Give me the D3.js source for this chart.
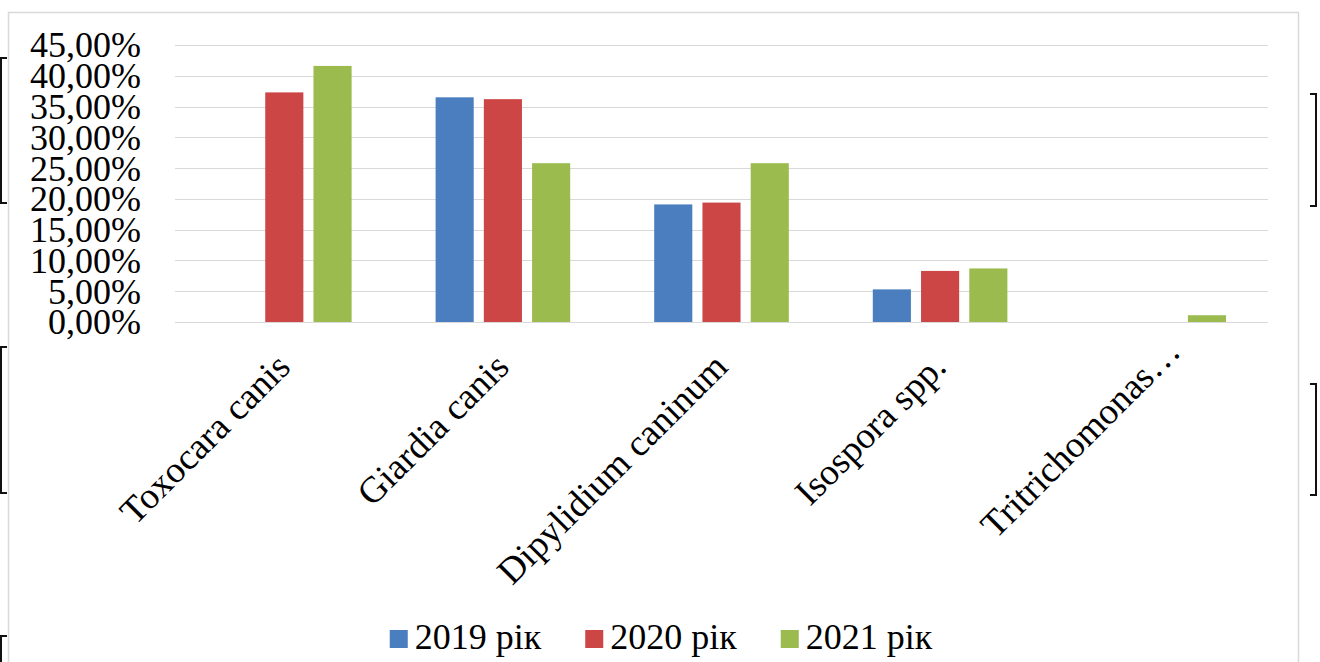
<!DOCTYPE html>
<html>
<head>
<meta charset="utf-8">
<script src="https://cdnjs.cloudflare.com/ajax/libs/d3/7.8.5/d3.min.js"></script>
<style>
	html, body { margin: 0; padding: 0; background: #fff; }
	svg { display: block; font-family: "Liberation Serif", "Times New Roman", serif; }
</style>
</head>
<body>
<svg id="chart" width="1320" height="662"></svg>
<script>
(function(){
	'use strict';

	// data
	var categories = ["Toxocara canis", "Giardia canis", "Dipylidium caninum", "Isospora spp.", "Tritrichomonas…"];
	var seriesNames = ["2019 рік", "2020 рік", "2021 рік"];
	var values2019 = [0, 36.5, 19.1, 5.3, 0];
	var values2020 = [37.3, 36.2, 19.4, 8.3, 0];
	var values2021 = [41.6, 25.8, 25.8, 8.7, 1.1];
	var yTicks = [0, 5, 10, 15, 20, 25, 30, 35, 40, 45];
	var colors = ["#4a7ebf", "#cc4646", "#9bbb4f"];

	var seriesValues = [values2019, values2020, values2021];

	var svg = d3.select("#chart");
	var margin = {top: 45, right: 52, bottom: 340, left: 175};
	var width = 1320 - margin.left - margin.right;
	var height = 662 - margin.top - margin.bottom;

	// outer frame of the chart area
	svg.append("rect")
		.attr("x", 8.5)
		.attr("y", 12.5)
		.attr("width", 1290)
		.attr("height", 670)
		.attr("fill", "none")
		.attr("stroke", "#d9d9d9")
		.attr("stroke-width", 1.5);

	// brackets left over from the page around the chart
	var bracket = function(x, y0, y1, dir){
		svg.append("path")
			.attr("d", "M" + (x + dir * 6) + "," + y0 + "H" + x + "V" + y1 + "H" + (x + dir * 6))
			.attr("fill", "none")
			.attr("stroke", "#111")
			.attr("stroke-width", 2);
	};
	bracket(1, 58, 203, 1);
	bracket(1, 347, 493, 1);
	bracket(1, 636, 670, 1);
	bracket(1316, 94, 206, -1);
	bracket(1316, 384, 495, -1);

	var g = svg.append("g")
		.attr("transform", "translate(" + margin.left + "," + margin.top + ")");

	var x0 = d3.scaleBand()
		.domain(categories)
		.range([0, width]);

	var x1 = d3.scaleBand()
		.domain(seriesNames)
		.range([42, x0.bandwidth() - 42])
		.paddingInner(0.21);

	var y = d3.scaleLinear()
		.domain([0, 45])
		.range([height, 0]);

	// gridlines
	g.append("g")
		.selectAll("line")
		.data(yTicks)
	.enter().append("line")
		.attr("x1", 0)
		.attr("x2", width)
		.attr("y1", function(d){ return Math.round(y(d)) + 0.5; })
		.attr("y2", function(d){ return Math.round(y(d)) + 0.5; })
		.attr("stroke", "#d9d9d9")
		.attr("stroke-width", 1.2);

	// y axis labels
	var yAxis = d3.axisLeft(y)
		.tickValues(yTicks)
		.tickSize(0)
		.tickPadding(34)
		.tickFormat(function(d){ return d3.format(".2f")(d).replace(".", ",") + "%"; });
	var yG = g.append("g").call(yAxis);
	yG.select(".domain").remove();
	yG.selectAll("text")
		.attr("font-family", "Liberation Serif, serif")
		.attr("font-size", 36)
		.attr("fill", "#000")
		.attr("dy", "0.33em");

	// bars
	var groups = g.append("g")
		.selectAll("g")
		.data(categories)
	.enter().append("g")
		.attr("transform", function(d){ return "translate(" + x0(d) + ",0)"; });

	groups.selectAll("rect")
		.data(function(d, i){
			return seriesNames.map(function(s, j){
				return {series: s, value: seriesValues[j][i], color: colors[j]};
			});
		})
	.enter().append("rect")
		.filter(function(d){ return d.value > 0; })
		.attr("x", function(d){ return x1(d.series); })
		.attr("width", x1.bandwidth())
		.attr("y", function(d){ return y(d.value); })
		.attr("height", function(d){ return height - y(d.value); })
		.attr("fill", function(d){ return d.color; });

	// category labels, rotated; a truncated label keeps the room of its full text
	var xAxis = d3.axisBottom(x0)
		.tickSize(0)
		.tickPadding(0);
	var xG = g.append("g")
		.attr("transform", "translate(0," + height + ")")
		.call(xAxis);
	xG.select(".domain").remove();
	xG.selectAll("text")
		.attr("font-family", "Liberation Serif, serif")
		.attr("font-size", 37)
		.attr("fill", "#000")
		.attr("text-anchor", "end")
		.attr("dy", null)
		.attr("y", null)
		.attr("dx", function(d){ return /…$/.test(d) ? "0.6em" : null; })
		.attr("transform", "translate(8,47) rotate(-45)");

	// legend
	var legend = svg.append("g")
		.attr("transform", "translate(0,649)");
	var items = legend.selectAll("g")
		.data(seriesNames)
	.enter().append("g");
	items.append("rect")
		.attr("y", -19)
		.attr("width", 18)
		.attr("height", 18)
		.attr("fill", function(d, i){ return colors[i]; });
	items.append("text")
		.attr("x", 25)
		.attr("font-size", 36)
		.attr("fill", "#000")
		.text(function(d){ return d; });

	var widths = [];
	items.select("text").each(function(){ widths.push(25 + this.getComputedTextLength()); });
	var gap = 44;
	var total = d3.sum(widths) + gap * (widths.length - 1);
	var cursor = 661 - total / 2;
	items.attr("transform", function(d, i){
		var pos = cursor;
		cursor += widths[i] + gap;
		return "translate(" + pos + ",0)";
	});
}());
</script>
</body>
</html>
